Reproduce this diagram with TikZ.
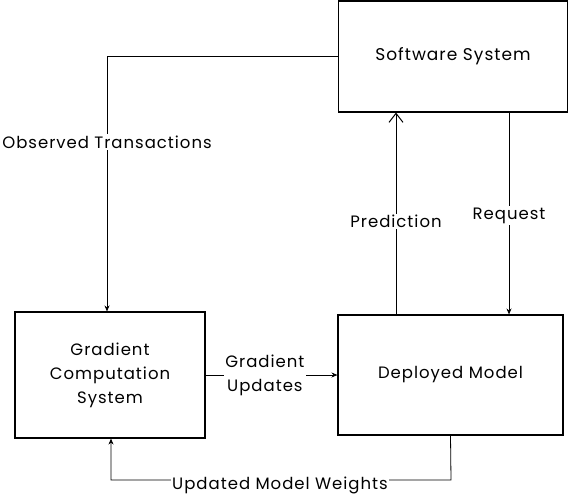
\documentclass[tikz,border=0pt]{standalone}
\usepackage{fontspec}
\setmainfont{Poppins}[LetterSpace=6]
\usetikzlibrary{arrows.meta}
\begin{document}
\begin{tikzpicture}[x=1pt,y=-1pt,
  box/.style={draw=black,line width=1.1pt,fill=white,align=center,inner sep=0pt},
  conn/.style={draw=black,line width=0.8pt,-{Stealth[length=6pt,width=5pt]}},
  openconn/.style={draw=black,line width=0.8pt,-{Straight Barb[length=9pt,width=14pt,line width=1pt]}},
  lbl/.style={fill=white,inner sep=1.5pt,align=center,font=\fontsize{16.5}{24}\selectfont}]
\useasboundingbox (0,0) rectangle (569,498);
\node[box,minimum width=229pt,minimum height=111pt,font=\fontsize{17}{24}\selectfont] (sw) at (453,56.5) {Software System};
\node[box,minimum width=190pt,minimum height=126pt,font=\fontsize{16.5}{24}\selectfont] (gc) at (110,375) {Gradient\\Computation\\System};
\node[box,minimum width=225pt,minimum height=120pt,font=\fontsize{16.5}{24}\selectfont] (dm) at (450.5,375) {Deployed Model};
% Observed transactions
\draw[conn] (sw.west) -| node[lbl,pos=0.668] {Observed Transactions} ([xshift=-3pt]gc.north);
% Prediction
\draw[openconn] ([xshift=-54.5pt]dm.north) -- node[lbl,pos=0.46] {Prediction} ([xshift=-54.5pt]dm.north |- sw.south);
% Request
\draw[conn] ([xshift=56pt]sw.south) -- node[lbl,pos=0.51] {Request} ([xshift=56pt]sw.south |- dm.north);
% Gradient updates
\draw[conn] (gc.east) -- node[lbl,pos=0.45] {Gradient\\Updates} (dm.west);
% Updated model weights
\coordinate (c1) at (451,480);
\draw[conn] (dm.south) -- (c1) -| ([xshift=1pt]gc.south);
\node[lbl] (uw) at (280,485) {Updated Model Weights};
\end{tikzpicture}
\end{document}
